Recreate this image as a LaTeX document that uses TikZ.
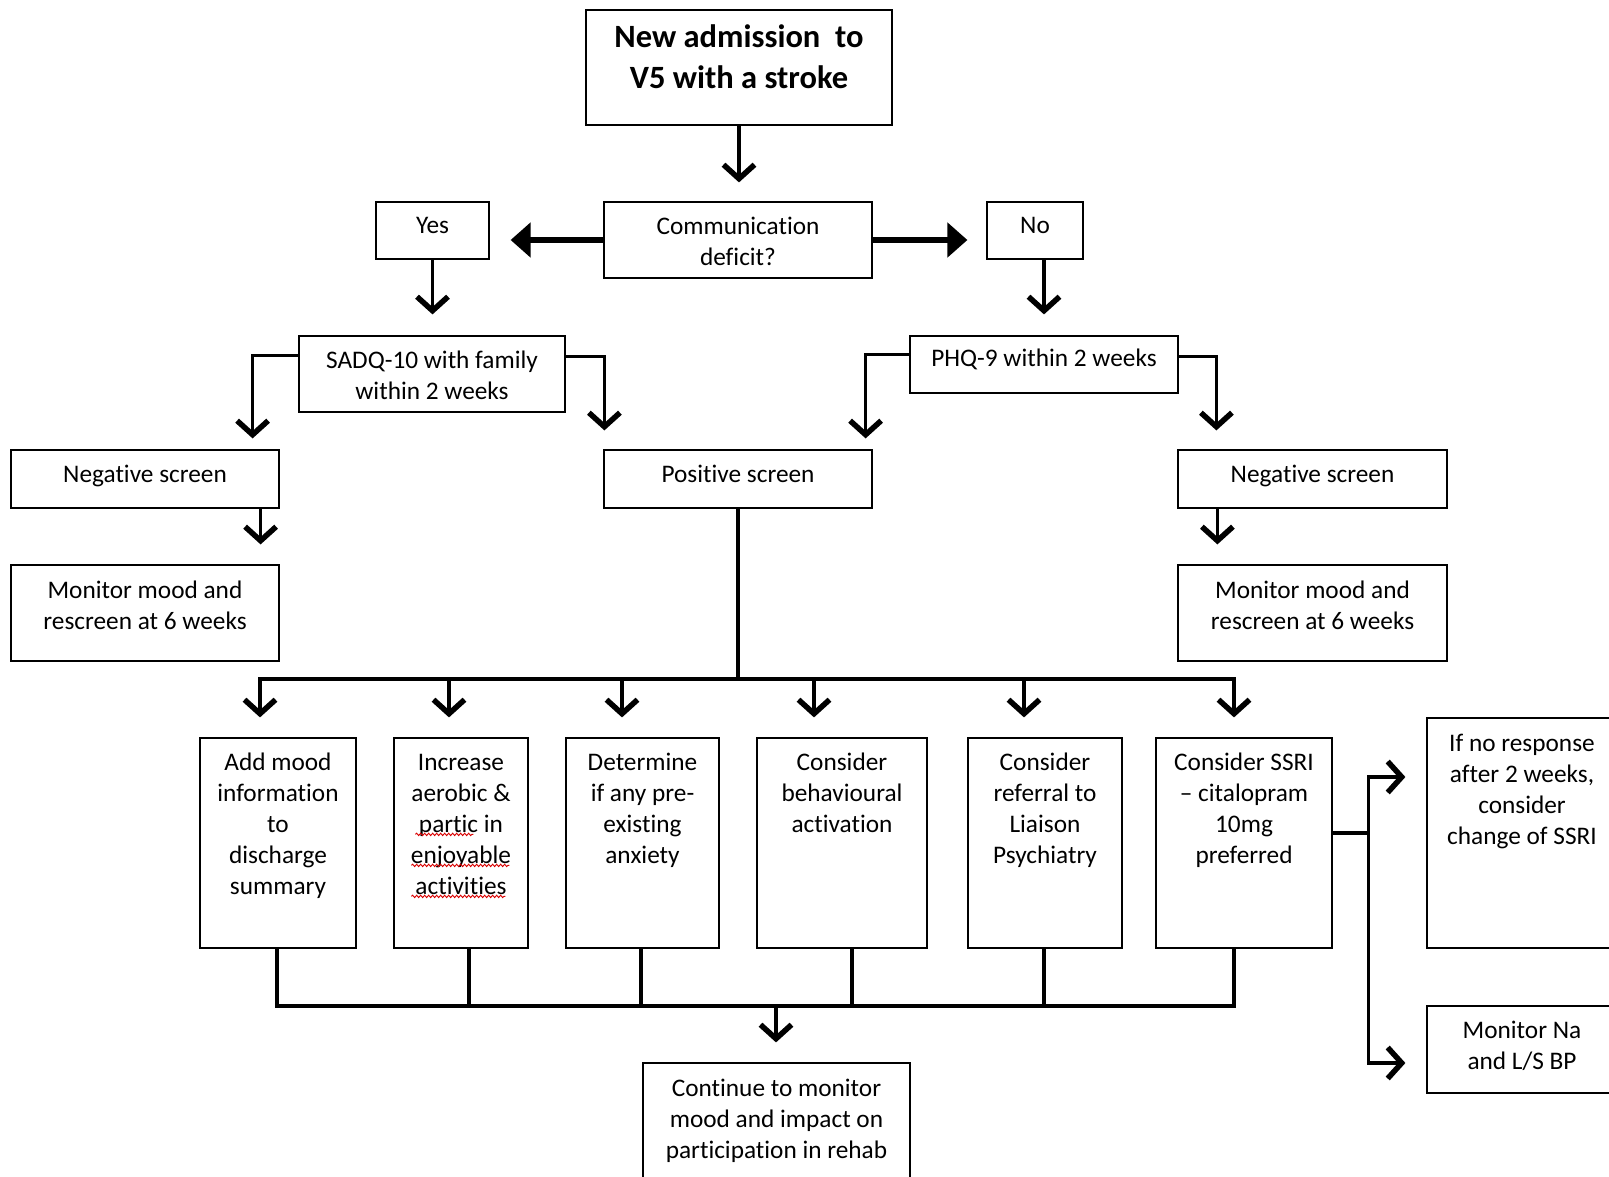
\documentclass[tikz,border=0pt]{standalone}
\usepackage{fontspec}
\setmainfont{Carlito}[Ligatures={NoCommon}, RawFeature={-liga;-clig}]
\usetikzlibrary{arrows.meta,calc,decorations.pathmorphing}
\newcommand\bxt[4][32pt]{\parbox[c][#3][t]{#2}{\centering\rule{0pt}{#1}#4\par}}
\begin{document}
\begin{tikzpicture}[x=1pt,y=-1pt,
  box/.style={draw, line width=1.2pt, inner sep=0pt, font=\fontsize{25.3}{31}\selectfont},
  ln/.style={line width=3.6pt},
  arr/.style={ln, -{Straight Barb[length=14pt,width=31pt,line width=5.5pt]}, shorten >=20pt},
  thk/.style={line width=5.5pt, -{Triangle[length=20pt,width=34pt]}},
  wave/.style={draw=red!85!black, line width=0.9pt, decorate, decoration={snake, amplitude=1.2pt, segment length=4pt}}
]
\clip (0,0) rectangle (1609,1177);
\fill[white] (0,0) rectangle (1609,1177);

% nodes
\node[box] (title) at (739,67.5) {\bxt[38pt]{306pt}{115pt}{\fontsize{32.5}{41}\selectfont\bfseries New admission\ \ to\\V5 with a stroke}};
\node[box] (comm) at (738,240) {\bxt[33pt]{268pt}{76pt}{Communication\\deficit?}};
\node[box] (yes) at (432.5,230.5) {\bxt[31pt]{113pt}{57pt}{Yes}};
\node[box] (no) at (1035,230.5) {\bxt[31pt]{96pt}{57pt}{No}};
\node[box] (sadq) at (432,374) {\bxt{266pt}{76pt}{SADQ-10 with family\\within 2 weeks}};
\node[box] (phq) at (1044,364.5) {\bxt[30pt]{268pt}{57pt}{PHQ-9 within 2 weeks}};
\node[box] (negL) at (145,479) {\bxt{268pt}{58pt}{Negative screen}};
\node[box] (pos) at (738,479) {\bxt{268pt}{58pt}{Positive screen}};
\node[box] (negR) at (1312.5,479) {\bxt{269pt}{58pt}{Negative screen}};
\node[box] (monL) at (145,613) {\bxt[33pt]{268pt}{96pt}{Monitor mood and\\rescreen at 6 weeks}};
\node[box] (monR) at (1312.5,613) {\bxt[33pt]{269pt}{96pt}{Monitor mood and\\rescreen at 6 weeks}};
\node[box] (b1) at (278,843) {\bxt{156pt}{210pt}{Add mood\\information\\to\\discharge\\summary}};
\node[box] (b2) at (461,843) {\bxt{134pt}{210pt}{Increase\\aerobic \&\\partic in\\enjoyable\\activities}};
\node[box] (b3) at (642.5,843) {\bxt{153pt}{210pt}{Determine\\if any pre-\\existing\\anxiety}};
\node[box] (b4) at (842,843) {\bxt{170pt}{210pt}{Consider\\behavioural\\activation}};
\node[box] (b5) at (1045,843) {\bxt{154pt}{210pt}{Consider\\referral to\\Liaison\\Psychiatry}};
\node[box] (b6) at (1244,843) {\bxt{176pt}{210pt}{Consider SSRI\\-- citalopram\\10mg\\preferred}};
\node[box] (resp) at (1522,833) {\bxt[33pt]{190pt}{230pt}{If no response\\after 2 weeks,\\consider\\change of SSRI}};
\node[box] (na) at (1522,1049.5) {\bxt{190pt}{87pt}{Monitor Na\\and L/S BP}};
\node[box] (cont) at (776.5,1123) {\bxt[33pt]{267pt}{120pt}{Continue to monitor\\mood and impact on\\participation in rehab}};

% spell-check underlines
\path[wave] ($(b2.north west)+(22,97)$) -- ($(b2.north west)+(80,97)$);
\path[wave] ($(b2.north west)+(18,128)$) -- ($(b2.north west)+(116,128)$);
\path[wave] ($(b2.north west)+(18,159)$) -- ($(b2.north west)+(112,159)$);

% connectors
\draw[arr, shorten >=19pt] (title.south) -- (title.south |- comm.north);
\draw[thk, shorten >=21pt] (comm.west) -- (comm.west -| yes.east);
\draw[thk, shorten >=19pt] (comm.east) -- (comm.east -| no.west);
\draw[arr, shorten >=21pt] (yes.south) -- (yes.south |- sadq.north);
\draw[arr, shorten >=21pt] (phq.north |- no.south) -- (phq.north);
\draw[arr, shorten >=11pt] ([yshift=-20pt]sadq.north west) -| ([xshift=-27pt]negL.north east);
\draw[arr, shorten >=19pt] ([yshift=-21pt]sadq.north east) -| ([xshift=1pt]pos.north west);
\draw[arr, shorten >=11pt] ([yshift=-19pt]phq.north west) -| ([xshift=-7pt]pos.north east);
\draw[arr, shorten >=19pt] ([yshift=-21pt]phq.north east) -| ([xshift=39pt]negR.north west);
\draw[arr] ([xshift=-19pt]negL.south east) -- ([xshift=-19pt]negL.south east |- monL.north);
\draw[arr] ([xshift=40pt]negR.south west) -- ([xshift=40pt]negR.south west |- monR.north);

\coordinate (bus) at (738,679);
\draw[arr] (pos.south) -- (bus) -| ([xshift=-18pt]b1.north);
\draw[arr] (pos.south) -- (bus) -| ([xshift=-12pt]b2.north);
\draw[arr] (pos.south) -- (bus) -| ([xshift=-20.5pt]b3.north);
\draw[arr] (pos.south) -- (bus) -| ([xshift=-28pt]b4.north);
\draw[arr] (pos.south) -- (bus) -| ([xshift=-21pt]b5.north);
\draw[arr] (pos.south) -- (bus) -| ([xshift=-10pt]b6.north);

\coordinate (mrg) at (776,1006);
\draw[ln] ([xshift=-1pt]b1.south) |- (mrg);
\draw[ln] ([xshift=8pt]b2.south) |- (mrg);
\draw[ln] ([xshift=-1.5pt]b3.south) |- (mrg);
\draw[ln] ([xshift=10pt]b4.south) |- (mrg);
\draw[ln] ([xshift=-1pt]b5.south) |- (mrg);
\draw[ln] ([xshift=-10pt]b6.south) |- (mrg);
\draw[arr] (mrg) -- (mrg |- cont.north);

\draw[arr, shorten >=21pt] ([yshift=10pt]b6.east) -- ++(36,0) |- ([yshift=56pt]resp.west);
\draw[arr, shorten >=21pt] ([yshift=10pt]b6.east) -- ++(36,0) |- ([yshift=-13.5pt]na.west);
\end{tikzpicture}
\end{document}
